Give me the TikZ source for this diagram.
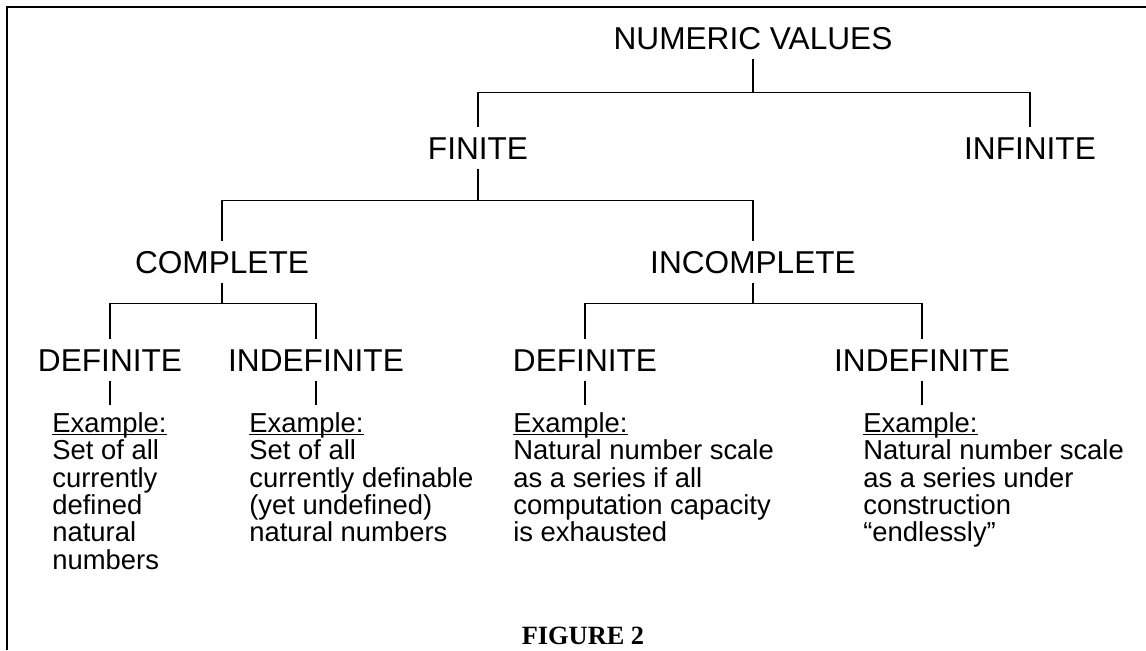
\documentclass[tikz,border=0pt]{standalone}
\usepackage{fontspec}
\setmainfont{Liberation Sans}
\newfontfamily\figfont{Liberation Serif}
\usepackage{tikz}
\usetikzlibrary{positioning}
\tikzstyle{head_style} = [font=\fontsize{18}{20}\selectfont, text height=13pt, text depth=0pt, inner xsep=2pt, inner ysep=5pt]
\tikzstyle{example_style} = [font=\fontsize{15.6}{15.6}\selectfont, align=left, anchor=north west, inner xsep=0pt, inner ysep=4pt]
\tikzstyle{line_style} = [line width=0.8pt]
\newcommand{\exhead}{\underline{\raisebox{0pt}[\height][0pt]{Example:}}}

\begin{document}
\begin{tikzpicture}[x=0.02cm, y=0.02cm]
	\useasboundingbox (0,0) rectangle (1146,-650);
	\draw[line width=1.2pt] (1146,-7) -- (7,-7) -- (7,-650);

	  % first row
	  \node[head_style] (numeric) at (753,-38) {NUMERIC VALUES};
	  \node[head_style] (finite) at (478,-148) {FINITE};
	  \node[head_style] (infinite) at (1030,-148) {INFINITE};
	  \draw[line_style] (numeric.south) -- ++(0,-34) coordinate (bar0) -| (finite.north);
	  \draw[line_style] (bar0) -| (infinite.north);

	  % second row
	  \node[head_style] (complete) at (222,-262) {COMPLETE};
	  \node[head_style] (incomplete) at (753,-262) {INCOMPLETE};
	  \draw[line_style] (finite.south) -- ++(0,-32) coordinate (bar1) -| (complete.north);
	  \draw[line_style] (bar1) -| (incomplete.north);

	  % third row
	  \node[head_style] (def1) at (110,-360) {DEFINITE};
	  \node[head_style] (indef1) at (316,-360) {INDEFINITE};
	  \node[head_style] (def2) at (585,-360) {DEFINITE};
	  \node[head_style] (indef2) at (922,-360) {INDEFINITE};
	  \draw[line_style] (complete.south) -- ++(0,-21) coordinate (bar2) -| (def1.north);
	  \draw[line_style] (bar2) -| (indef1.north);
	  \draw[line_style] (incomplete.south) -- ++(0,-21) coordinate (bar3) -| (def2.north);
	  \draw[line_style] (bar3) -| (indef2.north);

	  % examples
	  \node[example_style] (ex1) at (52,-405) {\exhead\\Set of all\\currently\\defined\\natural\\numbers};
	  \node[example_style] (ex2) at (249,-405) {\exhead\\Set of all\\currently definable\\(yet undefined)\\natural numbers};
	  \node[example_style] (ex3) at (513,-405) {\exhead\\Natural number scale\\as a series if all\\computation capacity\\is exhausted};
	  \node[example_style] (ex4) at (863,-405) {\exhead\\Natural number scale\\as a series under\\construction\\“endlessly”};
	  \draw[line_style] (def1.south) -- (def1.south |- ex1.north);
	  \draw[line_style] (indef1.south) -- (indef1.south |- ex2.north);
	  \draw[line_style] (def2.south) -- (def2.south |- ex3.north);
	  \draw[line_style] (indef2.south) -- (indef2.south |- ex4.north);

	  \node[font=\figfont\bfseries\fontsize{15}{18}\selectfont] (caption) at (583,-636) {FIGURE 2};

\end{tikzpicture}
\end{document}
